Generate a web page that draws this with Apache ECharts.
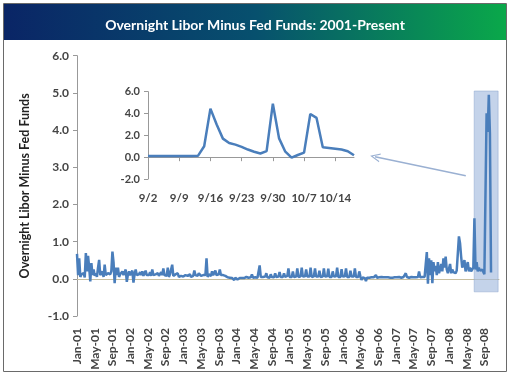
<!DOCTYPE html>
<html><head><meta charset="utf-8">
<script src="https://cdn.jsdelivr.net/npm/echarts@6/dist/echarts.min.js"></script>
<style>html,body{margin:0;padding:0;background:#fff}#c{width:510px;height:378px}</style>
</head><body><div id="c"></div>
<script>
const titleText = 'Overnight Libor Minus Fed Funds: 2001-Present';
const yAxisName = 'Overnight Libor Minus Fed Funds';
const tickLabels = ['Jan-01','May-01','Sep-01','Jan-02','May-02','Sep-02','Jan-03','May-03','Sep-03','Jan-04','May-04','Sep-04','Jan-05','May-05','Sep-05','Jan-06','May-06','Sep-06','Jan-07','May-07','Sep-07','Jan-08','May-08','Sep-08'];
// four readings per month (quarter-month steps)
const spread2001 = [0.67,0.10,0.55,0.05, 0.12,0.08,0.15,0.04, 0.69,0.20,0.62,0.30, -0.07,0.42,0.10,0.25, 0.08,0.15,0.05,0.30, 0.51,0.10,0.12,0.20, 0.05,0.38,0.10,0.08, 0.15,0.10,0.12,0.20, 0.73,0.45,-0.12,0.30, 0.10,0.30,0.05,0.12, 0.08,0.20,0.10,0.15, 0.25,-0.08,0.12,0.20];
const spread2002 = [0.10,0.08,0.22,-0.10, 0.12,0.25,0.10,0.15, 0.12,0.18,0.10,0.20, 0.08,0.15,0.22,0.10, 0.12,0.10,0.18,0.08, 0.25,0.10,0.05,0.12, 0.10,0.15,0.08,0.12, 0.18,0.10,0.28,0.10, 0.12,0.08,0.30,0.05, 0.12,0.10,0.38,0.08, 0.10,0.12,0.08,0.15, 0.05,0.10,0.08,0.12];
const spread2003 = [0.06,0.05,0.10,0.05, 0.08,0.06,0.12,0.05, 0.05,0.08,0.22,0.10, 0.12,0.08,0.15,0.10, 0.08,0.12,0.10,0.15, 0.10,0.55,0.05,0.12, 0.10,0.08,0.20,0.10, 0.15,0.22,0.10,0.08, 0.12,0.25,0.10,0.05, 0.10,0.06,0.08,0.05, 0.04,0.06,0.03,0.05, 0.02,0.04,-0.03,0.03];
const spread2004 = [0.02,-0.02,0.03,0.02, 0.03,0.02,0.04,0.02, 0.03,0.05,0.02,0.03, 0.02,0.04,0.12,0.03, 0.03,0.04,0.05,0.03, 0.04,0.36,0.05,0.06, 0.05,0.04,0.06,0.15, 0.04,0.05,0.03,0.12, 0.05,0.06,0.04,0.15, 0.05,0.04,0.06,0.18, 0.05,0.06,0.05,0.15, 0.05,0.06,0.08,0.28];
const spread2005 = [0.05,0.06,0.05,0.20, 0.05,0.07,0.06,0.28, 0.05,0.06,0.07,0.30, 0.06,0.05,0.07,0.25, 0.06,0.07,0.06,0.30, 0.05,0.06,0.07,0.28, 0.06,0.05,0.06,0.22, 0.05,0.07,0.06,0.28, 0.06,0.05,0.07,0.27, 0.05,0.06,0.05,0.20, 0.06,0.05,0.07,0.30, 0.05,0.06,0.05,0.26];
const spread2006 = [0.06,0.05,0.07,0.28, 0.05,0.06,0.05,0.22, 0.06,0.05,0.06,0.28, 0.05,0.06,0.05,0.20, 0.06,-0.03,0.04,0.03, 0.02,-0.06,0.03,0.02, 0.03,0.02,0.04,0.03, 0.04,0.03,0.10,0.03, 0.03,0.04,0.03,0.05, 0.03,0.04,0.03,0.04, 0.03,0.04,0.05,0.03, 0.04,0.03,0.05,0.04];
const spread2007 = [0.03,0.04,0.03,0.05, 0.04,0.03,0.04,0.05, 0.03,0.15,0.05,0.04, 0.03,0.04,0.05,0.06, 0.04,0.05,0.04,0.06, 0.05,0.20,0.04,0.06, 0.05,0.06,0.05,0.08, 0.72,-0.13,0.55,0.10, 0.50,-0.12,0.45,0.20, 0.35,0.10,0.45,0.15, 0.25,0.40,0.20,0.55, 0.30,0.60,0.25,0.15];
const spread2008 = [0.20,0.40,0.15,0.25, 0.18,0.20,0.15,0.22, 0.25,1.14,0.96,0.60, 0.30,0.25,0.50,0.20, 0.18,0.45,0.20,0.30, 0.20,0.25,0.30,1.63, 0.25,0.45,0.20,0.30, 0.22,0.20,0.25,0.30, 0.12,0.15,4.45,3.95, 4.95,3.90,0.17];
// inset: daily business days, Sep 2 - Oct 17, 2008
const insetDays = ['9/2','9/3','9/4','9/5','9/8','9/9','9/10','9/11','9/12','9/15','9/16','9/17','9/18','9/19','9/22','9/23','9/24','9/25','9/26','9/29','9/30','10/1','10/2','10/3','10/6','10/7','10/8','10/9','10/10','10/13','10/14','10/15','10/16','10/17'];
const insetValues = [0.10,0.10,0.10,0.10,0.10,0.10,0.10,0.10,0.12,1.00,4.45,3.00,1.70,1.30,1.15,0.95,0.70,0.50,0.34,0.55,4.90,1.72,0.50,-0.05,0.20,0.42,3.96,3.60,0.90,0.85,0.78,0.70,0.55,0.17];

const mainValues = [].concat(spread2001,spread2002,spread2003,spread2004,spread2005,spread2006,spread2007,spread2008);
const mainData = mainValues.map((v,i)=>[i/4, v]);
const lastIdx = insetValues.length - 1;
const insetData = insetValues.map((v,i)=> i===lastIdx ? {value:v, label:{show:true}} : v);

const FONT = 'Lato';
const blue = '#4a7ebb';
const chart = echarts.init(document.getElementById('c'), null, {renderer:'canvas'});
chart.setOption({
  animation:false,
  backgroundColor:'#fff',
  graphic:[
    {type:'rect', z:-10, shape:{x:3.5,y:3.5,width:503,height:368}, style:{fill:'#fff', stroke:'#6a6a6a', lineWidth:1}},
    {type:'rect', z:-5, shape:{x:4,y:4,width:502,height:36}, style:{fill:new echarts.graphic.LinearGradient(0,0,1,0,[{offset:0,color:'#0a2566'},{offset:0.5,color:'#07506e'},{offset:1,color:'#0aa84a'}])}}
  ],
  title:{text:titleText, left:'center', top:13, textStyle:{color:'#fff', fontFamily:FONT, fontWeight:'bold', fontSize:14}},
  grid:[
    {left:77, right:11, top:55.7, bottom:62},
    {left:148, right:156, top:91.7, bottom:199}
  ],
  xAxis:[
    {type:'value', gridIndex:0, min:0, max:95.3, interval:4,
     axisLine:{onZero:true, lineStyle:{color:'#c8bfa0', width:1}},
     axisTick:{show:false}, axisLabel:{show:false}, splitLine:{show:false}},
    {type:'value', gridIndex:0, position:'bottom', min:0, max:95.3, interval:4,
     axisLine:{show:false, onZero:false}, axisTick:{show:false}, splitLine:{show:false},
     axisLabel:{rotate:90, margin:12, color:'#444', fontFamily:FONT, fontWeight:'bold', fontSize:12,
       formatter:function(v){const k=Math.round(v/4); return (Math.abs(v-k*4)<1e-6 && tickLabels[k]) ? tickLabels[k] : '';}}},
    {type:'category', gridIndex:1, data:insetDays, boundaryGap:false,
     axisLine:{onZero:true, lineStyle:{color:'#999'}},
     axisTick:{show:true, interval:4, length:4, lineStyle:{color:'#999'}}, axisLabel:{show:false}},
    {type:'category', gridIndex:1, data:insetDays, boundaryGap:false, position:'bottom',
     axisLine:{show:false, onZero:false}, axisTick:{show:false},
     axisLabel:{interval:4, margin:13, color:'#444', fontFamily:FONT, fontWeight:'bold', fontSize:11.5}}
  ],
  yAxis:[
    {type:'value', gridIndex:0, min:-1, max:6, interval:1,
     name:yAxisName, nameLocation:'middle', nameGap:46, nameTextStyle:{color:'#222', fontFamily:FONT, fontWeight:'bold', fontSize:12.5},
     axisLine:{show:true, lineStyle:{color:'#999'}}, axisTick:{show:true, length:4, lineStyle:{color:'#999'}},
     splitLine:{show:false},
     axisLabel:{margin:8, color:'#444', fontFamily:FONT, fontWeight:'bold', fontSize:12, formatter:v=>v.toFixed(1)}},
    {type:'value', gridIndex:1, min:-2, max:6, interval:2,
     axisLine:{show:true, lineStyle:{color:'#999'}}, axisTick:{show:true, length:4, lineStyle:{color:'#999'}},
     splitLine:{show:false},
     axisLabel:{margin:8, color:'#444', fontFamily:FONT, fontWeight:'bold', fontSize:11, formatter:v=>v.toFixed(1)}}
  ],
  series:[
    {type:'line', xAxisIndex:0, yAxisIndex:0, data:mainData, symbol:'none', clip:false,
     lineStyle:{color:blue, width:2.5}, z:3,
     markArea:{silent:true, itemStyle:{color:'rgba(165,188,222,0.65)', borderColor:'rgba(140,165,205,0.5)', borderWidth:1},
       data:[[{coord:[89.7,5.05]},{coord:[95.1,-0.35]}]]},
     markLine:{silent:true, animation:false, symbol:['none','path://M5,0 L10,10 L8.6,10 L5,2.6 L1.4,10 L0,10 Z'], symbolSize:[9,10],
       label:{show:false}, lineStyle:{color:'#9ab0d2', width:1.5, type:'solid'},
       data:[[{coord:[87.8,2.77]},{coord:[67.3,3.28]}]]}
    },
    {type:'line', xAxisIndex:2, yAxisIndex:1, data:insetData, symbol:'none',
     lineStyle:{color:blue, width:2.5}, z:3,
     label:{position:'top', distance:6, offset:[-3,0], color:'#333', fontFamily:FONT, fontWeight:'bold', fontSize:11.5, formatter:p=>p.value.toFixed(2)}}
  ]
});
</script></body></html>
